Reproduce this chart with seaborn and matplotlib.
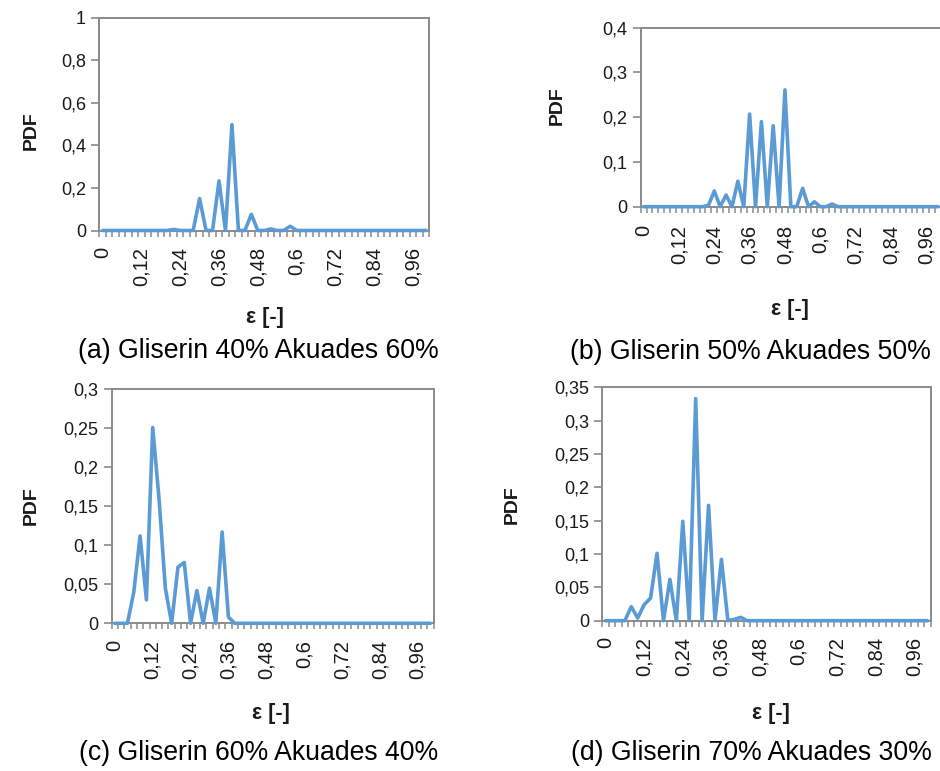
import numpy as np
import pandas as pd
import matplotlib
matplotlib.use("Agg")
import matplotlib.pyplot as plt
import seaborn as sns

# ε bin centres (step 0.02)
eps = [0.00, 0.02, 0.04, 0.06, 0.08, 0.10, 0.12, 0.14, 0.16, 0.18,
       0.20, 0.22, 0.24, 0.26, 0.28, 0.30, 0.32, 0.34, 0.36, 0.38,
       0.40, 0.42, 0.44, 0.46, 0.48, 0.50, 0.52, 0.54, 0.56, 0.58,
       0.60, 0.62, 0.64, 0.66, 0.68, 0.70, 0.72, 0.74, 0.76, 0.78,
       0.80, 0.82, 0.84, 0.86, 0.88, 0.90, 0.92, 0.94, 0.96, 0.98,
       1.00]

# PDF of ε for each glycerin / aquadest mixture
pdf_a = [0, 0, 0, 0, 0, 0, 0, 0, 0, 0,
         0, 0.005, 0, 0, 0, 0.150, 0, 0, 0.233, 0,
         0.497, 0, 0, 0.076, 0, 0, 0.007, 0, 0, 0.020,
         0, 0, 0, 0, 0, 0, 0, 0, 0, 0,
         0, 0, 0, 0, 0, 0, 0, 0, 0, 0,
         0]
pdf_b = [0, 0, 0, 0, 0, 0, 0, 0, 0, 0,
         0, 0.003, 0.035, 0, 0.026, 0, 0.057, 0, 0.207, 0,
         0.190, 0, 0.181, 0, 0.261, 0, 0, 0.041, 0, 0.011,
         0, 0, 0.006, 0, 0, 0, 0, 0, 0, 0,
         0, 0, 0, 0, 0, 0, 0, 0, 0, 0,
         0]
pdf_c = [0, 0, 0, 0.040, 0.112, 0.030, 0.251, 0.160, 0.045, 0,
         0.072, 0.078, 0, 0.042, 0, 0.045, 0, 0.117, 0.008, 0,
         0, 0, 0, 0, 0, 0, 0, 0, 0, 0,
         0, 0, 0, 0, 0, 0, 0, 0, 0, 0,
         0, 0, 0, 0, 0, 0, 0, 0, 0, 0,
         0]
pdf_d = [0, 0, 0, 0, 0.021, 0.004, 0.024, 0.034, 0.101, 0,
         0.062, 0, 0.149, 0, 0.333, 0, 0.173, 0, 0.092, 0,
         0.002, 0.005, 0, 0, 0, 0, 0, 0, 0, 0,
         0, 0, 0, 0, 0, 0, 0, 0, 0, 0,
         0, 0, 0, 0, 0, 0, 0, 0, 0, 0,
         0]

# category labels shown on the ε axis
x_tick_values = [0.0, 0.12, 0.24, 0.36, 0.48, 0.60, 0.72, 0.84, 0.96]
x_tick_labels = ["0", "0,12", "0,24", "0,36", "0,48", "0,6", "0,72", "0,84", "0,96"]

y_ticks_a = [0, 0.2, 0.4, 0.6, 0.8, 1.0]
y_labels_a = ["0", "0,2", "0,4", "0,6", "0,8", "1"]
y_ticks_b = [0, 0.1, 0.2, 0.3, 0.4]
y_labels_b = ["0", "0,1", "0,2", "0,3", "0,4"]
y_ticks_c = [0, 0.05, 0.10, 0.15, 0.20, 0.25, 0.30]
y_labels_c = ["0", "0,05", "0,1", "0,15", "0,2", "0,25", "0,3"]
y_ticks_d = [0, 0.05, 0.10, 0.15, 0.20, 0.25, 0.30, 0.35]
y_labels_d = ["0", "0,05", "0,1", "0,15", "0,2", "0,25", "0,3", "0,35"]

captions = ["(a) Gliserin 40% Akuades 60%", "(b) Gliserin 50% Akuades 50%",
            "(c) Gliserin 60% Akuades 40%", "(d) Gliserin 70% Akuades 30%"]

sns.set_theme(style="white")
plt.rcParams["font.family"] = ["Liberation Sans", "DejaVu Sans"]

W, H = 940, 771
fig = plt.figure(figsize=(W / 100, H / 100), dpi=100)
fig.patch.set_facecolor("white")

LINE = "#5B9BD5"
FRAME = "#8a8a8a"
TEXT = "#1a1a1a"


def px_axes(left, top, right, bottom):
    return fig.add_axes([left / W, 1 - bottom / H, (right - left) / W, (bottom - top) / H])


panels = [
    # data, yticks, ylabels, ymax, axes box (l, t, r, b), ylabel pos, xlabel pos, caption pos, xtick pad
    (pdf_a, y_ticks_a, y_labels_a, 1.0, (99.3, 17.5, 429.3, 230.5), (31, 131), (265, 318), (258, 351), 12),
    (pdf_b, y_ticks_b, y_labels_b, 0.4, (640.7, 27.7, 941, 206.7), (557, 106), (790, 310), (750, 352), 13),
    (pdf_c, y_ticks_c, y_labels_c, 0.3, (111.7, 389.3, 433.5, 623.3), (31, 506), (271, 714), (259, 753), 12),
    (pdf_d, y_ticks_d, y_labels_d, 0.35, (602.3, 387.3, 930.7, 620.7), (512, 505), (771, 714), (751, 753), 12),
]

boundaries = np.arange(len(eps) + 1) * 0.02 - 0.01

for (pdf, yt, yl, ymax, box, ylab, xlab, cap, xpad), caption in zip(panels, captions):
    ax = px_axes(*box)
    df = pd.DataFrame({"eps": eps, "pdf": pdf})
    sns.lineplot(data=df, x="eps", y="pdf", ax=ax, color=LINE, linewidth=2.6,
                 clip_on=False, zorder=5)
    ax.set_xlim(-0.01, 1.01)
    ax.set_ylim(0, ymax)

    ax.set_xticks(x_tick_values)
    ax.set_xticklabels(x_tick_labels, rotation=90, fontsize=14.5, color=TEXT)
    ax.set_xticks(boundaries, minor=True)
    ax.tick_params(axis="x", which="major", length=0, pad=xpad)
    ax.tick_params(axis="x", which="minor", length=4.5, width=1.1, color=FRAME,
                   direction="out", bottom=True)
    ax.set_yticks(yt)
    ax.set_yticklabels(yl, fontsize=13, color=TEXT)
    ax.tick_params(axis="y", which="major", length=5.5, width=1.2, color=FRAME,
                   direction="out", pad=4, left=True)
    for sp in ax.spines.values():
        sp.set_color(FRAME)
        sp.set_linewidth(1.4)
        sp.set_visible(True)

    ax.set_xlabel("")
    ax.set_ylabel("")
    fig.text(ylab[0] / W, 1 - ylab[1] / H, "PDF", rotation=90, ha="center", va="center",
             fontsize=14, fontweight="bold", color=TEXT)
    fig.text(xlab[0] / W, 1 - xlab[1] / H, "ε [-]", ha="center", va="center",
             fontsize=15.5, fontweight="bold", color=TEXT)
    fig.text(cap[0] / W, 1 - cap[1] / H, caption, ha="center", va="center",
             fontsize=19.2, color="black")

fig.savefig("out.png", dpi=100, facecolor="white")
